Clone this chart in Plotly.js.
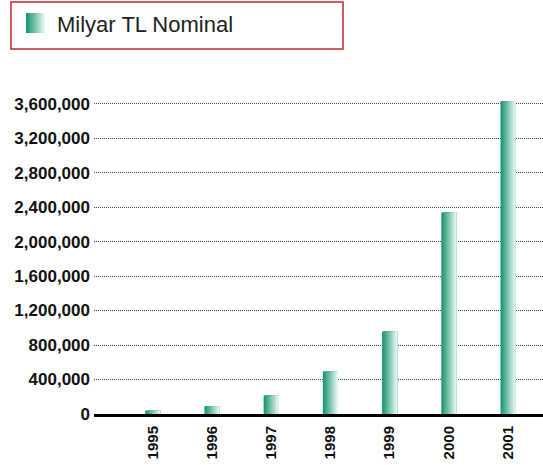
<!DOCTYPE html>
<html>
<head>
<meta charset="utf-8">
<script src="https://cdn.plot.ly/plotly-3.0.1.min.js"></script>
<style>html,body{margin:0;padding:0;background:#fff;}#chart{width:543px;height:465px;}</style>
</head>
<body>
<div id="chart"></div>
<script>
// ---- data ----
var years = ['1995', '1996', '1997', '1998', '1999', '2000', '2001'];
var values = [40000, 90000, 215000, 493000, 957000, 2338000, 3627000];
var yTickVals = [0, 400000, 800000, 1200000, 1600000, 2000000, 2400000, 2800000, 3200000, 3600000];
var seriesName = 'Milyar TL Nominal';

// ---- styling ----
var W = 543, H = 465;
var M = {l: 94, r: 0, t: 95, b: 51};
var barWidth = 0.253;
var nStrips = 12;
var cStart = [26, 150, 115], cEnd = [228, 245, 239];
function mix(t) {
  var c = cStart.map(function (s, i) { return Math.round(s + (cEnd[i] - s) * t); });
  return 'rgb(' + c.join(',') + ')';
}

var traces = [];
for (var i = 0; i < nStrips; i++) {
  var off = -barWidth / 2 + i * barWidth / nStrips;
  traces.push({
    type: 'bar',
    x: years,
    y: values,
    name: seriesName,
    width: barWidth - i * barWidth / nStrips,
    offset: off,
    marker: {color: mix(i / (nStrips - 1)), line: {width: 0}},
    showlegend: false,
    hoverinfo: 'x+y'
  });
}

// pixel -> paper helpers for the custom legend
var pw = W - M.l - M.r, ph = H - M.t - M.b;
function px(x) { return (x - M.l) / pw; }
function py(y) { return 1 - (y - M.t) / ph; }

var shapes = [{
  type: 'rect', xref: 'paper', yref: 'paper',
  x0: px(11), x1: px(343), y0: py(2), y1: py(49),
  line: {color: '#c1272d', width: 1.5}, fillcolor: 'rgba(0,0,0,0)'
}];
var iconN = 10;
for (var k = 0; k < iconN; k++) {
  shapes.push({
    type: 'rect', xref: 'paper', yref: 'paper',
    x0: px(26 + k * 19 / iconN), x1: px(45), y0: py(13), y1: py(33),
    line: {width: 0}, fillcolor: mix(k / (iconN - 1))
  });
}

var layout = {
  width: W, height: H,
  margin: M,
  paper_bgcolor: '#fff', plot_bgcolor: '#fff',
  barmode: 'overlay',
  showlegend: false,
  xaxis: {
    type: 'category',
    range: [-0.99, 6.59],
    tickangle: -90,
    tickfont: {family: 'Liberation Sans, Arial, sans-serif', size: 15, color: '#111', weight: 'bold'},
    showgrid: false,
    showline: true, linecolor: '#000', linewidth: 3,
    ticks: '',
    ticklabelstandoff: 3,
    zeroline: false
  },
  yaxis: {
    range: [0, 3700000],
    tickvals: yTickVals,
    tickformat: ',d',
    tickfont: {family: 'Liberation Sans, Arial, sans-serif', size: 17, color: '#111', weight: 'bold'},
    showgrid: true, gridcolor: '#444', gridwidth: 1, griddash: '1px,1px',
    zeroline: false,
    showline: false,
    ticks: '',
    ticklabelstandoff: 3
  },
  shapes: shapes,
  annotations: [{
    xref: 'paper', yref: 'paper', x: px(55), y: py(24),
    xanchor: 'left', yanchor: 'middle', showarrow: false,
    text: seriesName,
    font: {family: 'Liberation Sans, Arial, sans-serif', size: 22, color: '#222'}
  }]
};

Plotly.newPlot('chart', traces, layout, {displayModeBar: false, staticPlot: true});
</script>
</body>
</html>
